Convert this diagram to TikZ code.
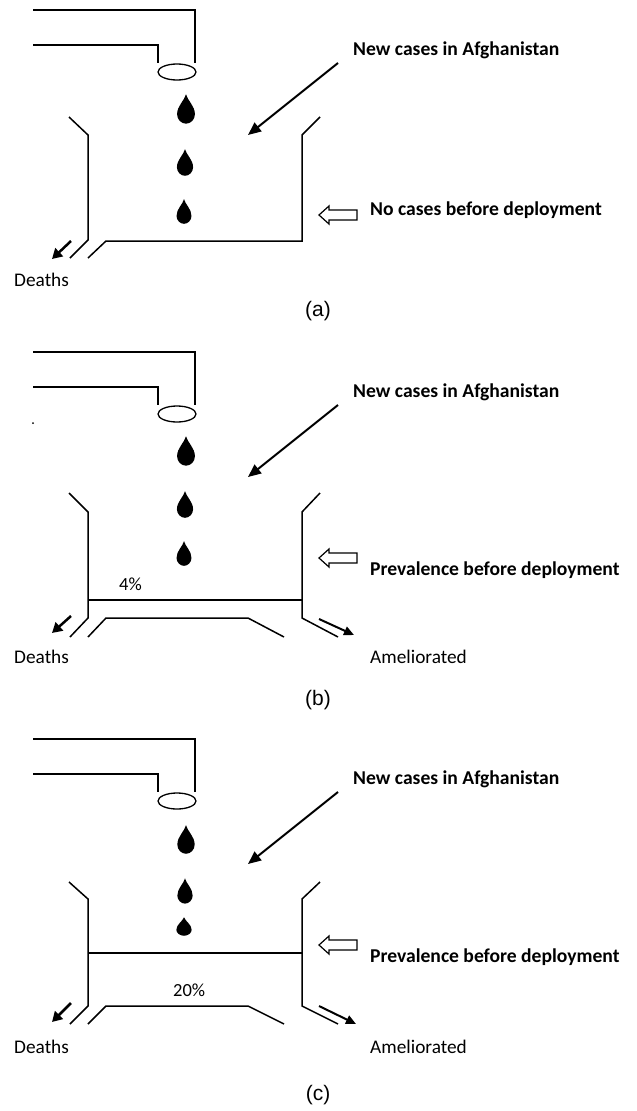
\documentclass[tikz,border=0pt]{standalone}
\usepackage{fontspec}
\setmainfont{Carlito}
\newfontfamily\arialf{Liberation Sans}
\usetikzlibrary{arrows.meta}
\begin{document}
\begin{tikzpicture}[x=1pt,y=-1pt,
  wall/.style={line width=1.5pt, line join=miter},
  lbl/.style={font=\fontsize{19.6}{22}\selectfont\bfseries, anchor=base west, inner sep=0pt},
  reg/.style={font=\fontsize{19.3}{22}\selectfont, anchor=base west, inner sep=0pt},
  pct/.style={font=\fontsize{18.5}{22}\selectfont, anchor=base west, inner sep=0pt},
  sublabel/.style={font=\arialf\fontsize{21}{24}\selectfont, anchor=base, inner sep=0pt},
  bigarrow/.style={line width=2pt, -{Triangle[length=13pt,width=11pt]}},
  outarrow/.style={line width=2.5pt, -{Triangle[length=10pt,width=11pt]}},
  amarrow/.style={line width=2pt, -{Triangle[length=10pt,width=9pt]}},
  hollow/.style={line width=1.2pt, fill=white, line join=miter},
  drop/.pic={\fill (0,-14) .. controls (1.5,-8) and (8.5,-3) .. (8.5,5)
      .. controls (8.5,10) and (4.5,14) .. (0,14)
      .. controls (-4.5,14) and (-8.5,10) .. (-8.5,5)
      .. controls (-8.5,-3) and (-1.5,-8) .. (0,-14) -- cycle;}
]
\useasboundingbox (0,0) rectangle (637,1111);

% ---------- common tap + new cases ----------
\foreach \off/\p in {0/a,342/b,729/c}{
  \begin{scope}[shift={(0,\off)}]
    \draw[wall] (33,10) -- (195,10) -- (195,63);
    \draw[wall] (33,45) -- (158,45) -- (158,63);
    \draw[line width=1.3pt] (177,72) ellipse [x radius=19pt, y radius=8pt];
    \node[lbl] (new\p) at (353,55) {New cases in Afghanistan};
    \coordinate (nsrc\p) at (338,63);
    \coordinate (ntgt\p) at (248,135);
    \draw[bigarrow] (nsrc\p) -- (ntgt\p);
  \end{scope}
}

% ---------- panel (a) ----------
\pic[scale=1.05] at (186,109) {drop};
\pic[scale=0.95] at (185,162.5) {drop};
\pic[scale=0.88] at (184,211.5) {drop};
\draw[wall] (69,117) -- (88,135) -- (88,240) -- (70,258);
\draw[wall] (88,258) -- (106,241) -- (302,241) -- (302,135) -- (320,117);
\coordinate (da1) at (71,241); \coordinate (da2) at (52,259);
\draw[outarrow] (da1) -- (da2);
\node[reg] (deathsa) at (14,286) {Deaths};
\draw[hollow] (319,215) -- (329,206) -- (329,210) -- (357,210) -- (357,220) -- (329,220) -- (329,224) -- cycle;
\node[lbl] (nocase) at (370,215) {No cases before deployment};
\node[sublabel] (capa) at (318,316) {(a)};

% ---------- panel (b) ----------
\fill (33,423) circle (1pt);
\pic[scale=1.05] at (186,451) {drop};
\pic[scale=0.95] at (185,504.5) {drop};
\pic[scale=0.88] at (184,553.5) {drop};
\draw[wall] (69,493) -- (88,512) -- (88,618) -- (70,637);
\draw[wall] (88,637) -- (106,618) -- (248,618) -- (284,637);
\draw[wall] (320,493) -- (302,512) -- (302,618) -- (338,637);
\draw[wall] (88,600) -- (302,600);
\node[pct] (pb) at (119,590) {4\%};
\coordinate (db1) at (71,616); \coordinate (db2) at (52,633);
\draw[outarrow] (db1) -- (db2);
\coordinate (ab1) at (319,619); \coordinate (ab2) at (354,635);
\draw[amarrow] (ab1) -- (ab2);
\node[reg] (deathsb) at (14,663) {Deaths};
\node[reg] (amelb) at (370,663) {Ameliorated};
\draw[hollow] (319,558) -- (329,549) -- (329,553) -- (357,553) -- (357,563) -- (329,563) -- (329,567) -- cycle;
\node[lbl] (prevb) at (370,575) {Prevalence before deployment};
\node[sublabel] (capb) at (318,705) {(b)};

% ---------- panel (c) ----------
\pic[scale=1.02] at (186,839.5) {drop};
\pic[scale=0.9] at (185,891) {drop};
\pic[xscale=0.9,yscale=0.66] at (184,926.5) {drop};
\draw[wall] (69,882) -- (88,899) -- (88,1006) -- (70,1024);
\draw[wall] (88,1024) -- (106,1006) -- (248,1006) -- (284,1024);
\draw[wall] (320,882) -- (302,899) -- (302,1006) -- (338,1024);
\draw[wall] (88,953) -- (302,953);
\node[pct] (pc) at (173,996) {20\%};
\coordinate (dc1) at (71,1003); \coordinate (dc2) at (52,1022);
\draw[outarrow] (dc1) -- (dc2);
\coordinate (ac1) at (319,1006); \coordinate (ac2) at (356,1024);
\draw[amarrow] (ac1) -- (ac2);
\node[reg] (deathsc) at (14,1053) {Deaths};
\node[reg] (amelc) at (370,1053) {Ameliorated};
\draw[hollow] (319,945) -- (329,936) -- (329,940) -- (357,940) -- (357,950) -- (329,950) -- (329,954) -- cycle;
\node[lbl] (prevc) at (370,962) {Prevalence before deployment};
\node[sublabel] (capc) at (318,1100) {(c)};
\end{tikzpicture}
\end{document}
